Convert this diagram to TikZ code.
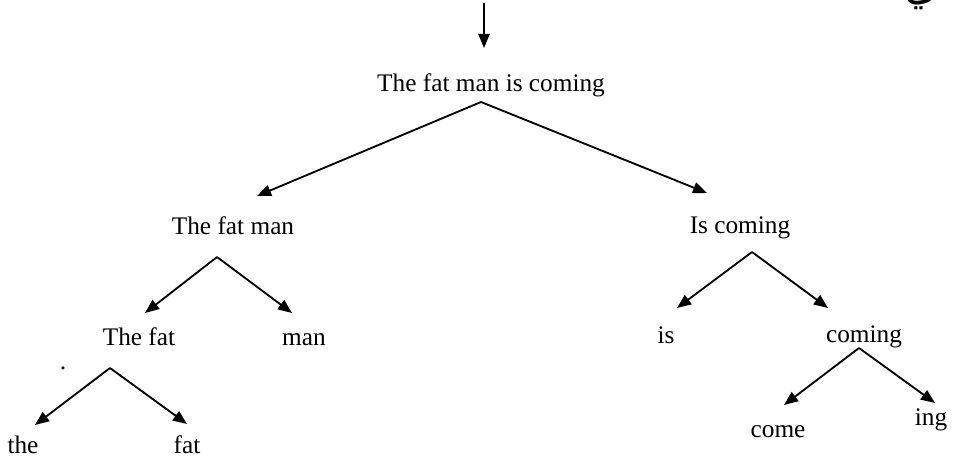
\documentclass[tikz,border=0pt]{standalone}
\usepackage{fontspec}
\setmainfont{Liberation Serif}
\newfontfamily\arabicfont[Script=Arabic]{DejaVu Sans}
\TeXXeTstate=1
\usetikzlibrary{arrows.meta}

\begin{document}
\begin{tikzpicture}[x=.02cm,y=-.02cm,
  word/.style={anchor=base,inner sep=0pt,font=\fontsize{14.4}{17}\selectfont},
  arr/.style={-{Triangle[length=8pt,width=6.4pt]},line width=1.05pt}]
\useasboundingbox (0,0) rectangle (955,462);
% words of the tree
\node[word] (root) at (491,92) {The fat man is coming};
\node[word] (tfm) at (233,235) {The fat man};
\node[word] (isc) at (740,234) {Is coming};
\node[word] (tf) at (139,345) {The fat};
\node[word] (man) at (304,345) {man};
\node[word] (is) at (666,343) {is};
\node[word] (coming) at (864,342) {coming};
\node[word] (the) at (23,453) {the};
\node[word] (fat) at (187,453) {fat};
\node[word] (come) at (778,437) {come};
\node[word] (ing) at (931,425) {ing};
\node[word] (dot) at (63,369) {.};
\node[anchor=base,inner sep=0pt,font=\fontsize{24}{28}\selectfont] (ya) at (921,0)
  {\arabicfont\beginR ي\endR};
% forks and arrow ends
\coordinate (in) at (484,3);
\coordinate (in-end) at (484,48);
\coordinate (root-f) at (481,102);
\coordinate (tfm-t) at (257,196);
\coordinate (isc-t) at (707,193);
\coordinate (tfm-f) at (217,257);
\coordinate (tf-t) at (145,313);
\coordinate (man-t) at (292,313);
\coordinate (isc-f) at (752,252);
\coordinate (is-t) at (677,308);
\coordinate (coming-t) at (828,308);
\coordinate (tf-f) at (110,368);
\coordinate (the-t) at (35,425);
\coordinate (fat-t) at (187,424);
\coordinate (coming-f) at (859,348);
\coordinate (come-t) at (784,405);
\coordinate (ing-t) at (935,403);
\draw[arr] (in)--(in-end);
\draw[arr] (root-f)--(tfm-t);
\draw[arr] (root-f)--(isc-t);
\draw[arr] (tfm-f)--(tf-t);
\draw[arr] (tfm-f)--(man-t);
\draw[arr] (isc-f)--(is-t);
\draw[arr] (isc-f)--(coming-t);
\draw[arr] (tf-f)--(the-t);
\draw[arr] (tf-f)--(fat-t);
\draw[arr] (coming-f)--(come-t);
\draw[arr] (coming-f)--(ing-t);
\end{tikzpicture}
\end{document}
